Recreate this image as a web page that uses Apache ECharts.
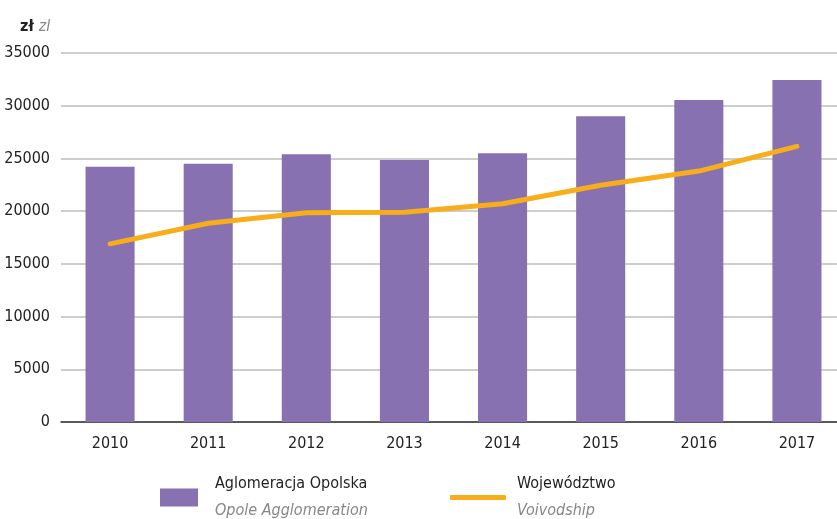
<!DOCTYPE html>
<html>
<head>
<meta charset="utf-8">
<script src="https://cdn.jsdelivr.net/npm/echarts@6/dist/echarts.min.js"></script>
<style>
    html, body { margin: 0; padding: 0; background: #fff; }
    #chart { width: 837px; height: 519px; }
</style>
</head>
<body>
<div id="chart"></div>
<script>
    const years = ['2010', '2011', '2012', '2013', '2014', '2015', '2016', '2017'];
    const aglomeracja = [24200, 24500, 25400, 24850, 25500, 29000, 30550, 32450];
    const wojewodztwo = [16900, 18850, 19850, 19900, 20700, 22450, 23800, 26150];

    const FONT = "'Liberation Sans Narrow', 'DejaVu Sans Condensed', sans-serif";
    const PURPLE = '#8771b0';
    const ORANGE = '#f8ad1a';

    const legendRich = {
        a: { fontFamily: FONT, fontSize: 16, color: '#222', lineHeight: 27 },
        b: { fontFamily: FONT, fontSize: 16, color: '#888', fontStyle: 'italic', lineHeight: 27 }
    };
    const legendNames = {
        'Aglomeracja Opolska': 'Opole Agglomeration',
        'Województwo': 'Voivodship'
    };

    const myChart = echarts.init(document.getElementById('chart'));
    const option = {
        animation: false,
        title: {
            text: '{a|zł} {b|zl}',
            left: 15,
            top: 13,
            textStyle: {
                rich: {
                    a: { fontFamily: FONT, fontSize: 16, color: '#222', fontWeight: 'bold' },
                    b: { fontFamily: FONT, fontSize: 16, color: '#888', fontStyle: 'italic', fontWeight: 'normal' }
                }
            }
        },
        grid: { left: 61, right: -9, top: 53, bottom: 97, outerBoundsMode: 'none' },
        legend: [{
            data: [{ name: 'Aglomeracja Opolska', icon: 'rect' }],
            left: 155,
            top: 471,
            itemWidth: 38,
            itemHeight: 18,
            formatter: (n) => '{a|' + n + '}\n{b|' + legendNames[n] + '}',
            textStyle: { rich: legendRich, padding: [0, 0, 0, 12] },
            selectedMode: false
        }, {
            data: [{ name: 'Województwo', icon: 'roundRect' }],
            left: 445,
            top: 471,
            itemWidth: 56,
            itemHeight: 5,
            formatter: (n) => '{a|' + n + '}\n{b|' + legendNames[n] + '}',
            textStyle: { rich: legendRich, padding: [0, 0, 0, 6] },
            selectedMode: false
        }],
        xAxis: {
            type: 'category',
            data: years,
            axisLine: { lineStyle: { color: '#333', width: 1.5 } },
            axisTick: { show: false },
            axisLabel: { fontFamily: FONT, fontSize: 16, color: '#222', margin: 14 }
        },
        yAxis: {
            type: 'value',
            min: 0,
            max: 35000,
            interval: 5000,
            axisLine: { show: false },
            axisTick: { show: false },
            axisLabel: {
                fontFamily: FONT, fontSize: 16, color: '#222', margin: 11,
                formatter: (v) => String(v)
            },
            splitLine: { lineStyle: { color: '#bdbdbd', width: 1.5 } }
        },
        series: [{
            name: 'Aglomeracja Opolska',
            type: 'bar',
            data: aglomeracja,
            barWidth: '50%',
            itemStyle: { color: PURPLE }
        }, {
            name: 'Województwo',
            type: 'line',
            data: wojewodztwo,
            symbol: 'none',
            itemStyle: { color: ORANGE },
            lineStyle: { color: ORANGE, width: 5, cap: 'round', join: 'round' }
        }]
    };
    myChart.setOption(option);
</script>
</body>
</html>
